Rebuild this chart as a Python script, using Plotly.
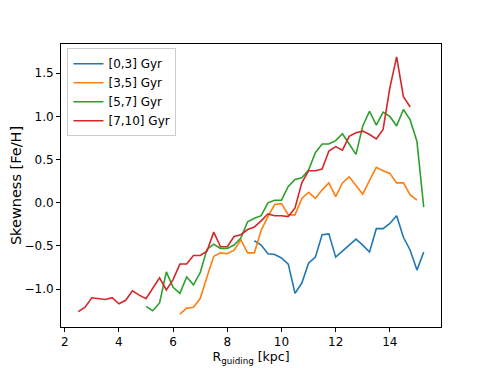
import plotly.graph_objects as go

# guiding radius grid [kpc], 0.25 kpc bins
r_grid = [
    2.5, 2.75, 3.0, 3.25, 3.5, 3.75, 4.0, 4.25, 4.5, 4.75,
    5.0, 5.25, 5.5, 5.75, 6.0, 6.25, 6.5, 6.75, 7.0, 7.25,
    7.5, 7.75, 8.0, 8.25, 8.5, 8.75, 9.0, 9.25, 9.5, 9.75,
    10.0, 10.25, 10.5, 10.75, 11.0, 11.25, 11.5, 11.75, 12.0, 12.25,
    12.5, 12.75, 13.0, 13.25, 13.5, 13.75, 14.0, 14.25, 14.5, 14.75,
    15.0, 15.25,
]

labels = ["[0,3] Gyr", "[3,5] Gyr", "[5,7] Gyr", "[7,10] Gyr"]
colors = ["#1f77b4", "#ff7f0e", "#2ca02c", "#d62728"]
r_start = [9.0, 6.25, 5.0, 2.5]

skew_0_3 = [
    -0.44, -0.49, -0.59, -0.60, -0.64, -0.71, -1.05, -0.93, -0.70, -0.63,
    -0.37, -0.36, -0.63, -0.56, -0.49, -0.42, -0.49, -0.57, -0.30, -0.30,
    -0.24, -0.15, -0.40, -0.55, -0.78, -0.57,
]
skew_3_5 = [
    -1.29, -1.22, -1.21, -1.11, -0.86, -0.62, -0.58, -0.59, -0.55, -0.43,
    -0.58, -0.58, -0.32, -0.16, -0.02, -0.01, -0.14, -0.14, 0.05, 0.12,
    0.05, 0.15, 0.23, 0.07, 0.23, 0.30, 0.20, 0.10, 0.26, 0.41,
    0.37, 0.34, 0.23, 0.23, 0.09, 0.03,
]
skew_5_7 = [
    -1.20, -1.25, -1.16, -0.80, -0.98, -1.05, -0.86, -0.95, -0.81, -0.54,
    -0.48, -0.53, -0.53, -0.49, -0.41, -0.22, -0.18, -0.15, 0.00, 0.03,
    0.03, 0.19, 0.27, 0.29, 0.38, 0.58, 0.68, 0.68, 0.72, 0.80,
    0.68, 0.56, 0.89, 1.06, 0.90, 1.05, 1.00, 0.89, 1.08, 0.96,
    0.71, -0.05,
]
skew_7_10 = [
    -1.26, -1.21, -1.10, -1.11, -1.12, -1.10, -1.17, -1.13, -1.02, -1.07,
    -1.11, -0.99, -0.87, -1.01, -0.89, -0.71, -0.71, -0.61, -0.61, -0.56,
    -0.34, -0.51, -0.51, -0.39, -0.37, -0.31, -0.28, -0.21, -0.13, -0.15,
    -0.15, -0.16, -0.06, 0.23, 0.37, 0.37, 0.39, 0.60, 0.65, 0.61,
    0.77, 0.81, 0.83, 0.79, 0.74, 0.85, 1.33, 1.69, 1.23, 1.11,
]
series = [skew_0_3, skew_3_5, skew_5_7, skew_7_10]

fig = go.Figure()
for name, color, start, values in zip(labels, colors, r_start, series):
    i0 = r_grid.index(start)
    fig.add_trace(
        go.Scatter(
            x=r_grid[i0:i0 + len(values)],
            y=values,
            mode="lines",
            name=name,
            line=dict(color=color, width=1.6),
        )
    )

# matplotlib-like 5% margins around the data
all_vals = [v for s in series for v in s]
ymin, ymax = min(all_vals), max(all_vals)
ypad = 0.05 * (ymax - ymin)
xpad = 0.05 * (r_grid[-1] - r_grid[0])

axis_style = dict(
    showline=True,
    mirror=True,
    linecolor="black",
    linewidth=1,
    ticks="outside",
    ticklen=4,
    tickwidth=1,
    tickcolor="black",
    showgrid=False,
    zeroline=False,
    automargin=False,
    tickfont=dict(size=12, color="black"),
)

# page body has an 8px margin, so the figure is 8px smaller and offset
fig.update_layout(
    width=482,
    height=360,
    margin=dict(l=53, r=49, t=36, b=40.5),
    paper_bgcolor="white",
    plot_bgcolor="white",
    font=dict(family="DejaVu Sans", color="black"),
    showlegend=True,
    legend=dict(
        x=0.017,
        y=0.985,
        xanchor="left",
        yanchor="top",
        bgcolor="rgba(255,255,255,0.8)",
        bordercolor="#cccccc",
        borderwidth=1,
        font=dict(size=12),
        itemwidth=30,
    ),
)
fig.update_xaxes(
    axis_style,
    range=[r_grid[0] - xpad, r_grid[-1] + xpad],
    tick0=2,
    dtick=2,
    title=dict(text="R<sub>guiding</sub> [kpc]", font=dict(size=12.5), standoff=3),
)
fig.update_yaxes(
    axis_style,
    range=[ymin - ypad, ymax + ypad],
    tick0=0,
    dtick=0.5,
    tickformat=".1f",
    title=dict(text="Skewness [Fe/H]", font=dict(size=14.5), standoff=3),
)

fig.write_html("out.html")
